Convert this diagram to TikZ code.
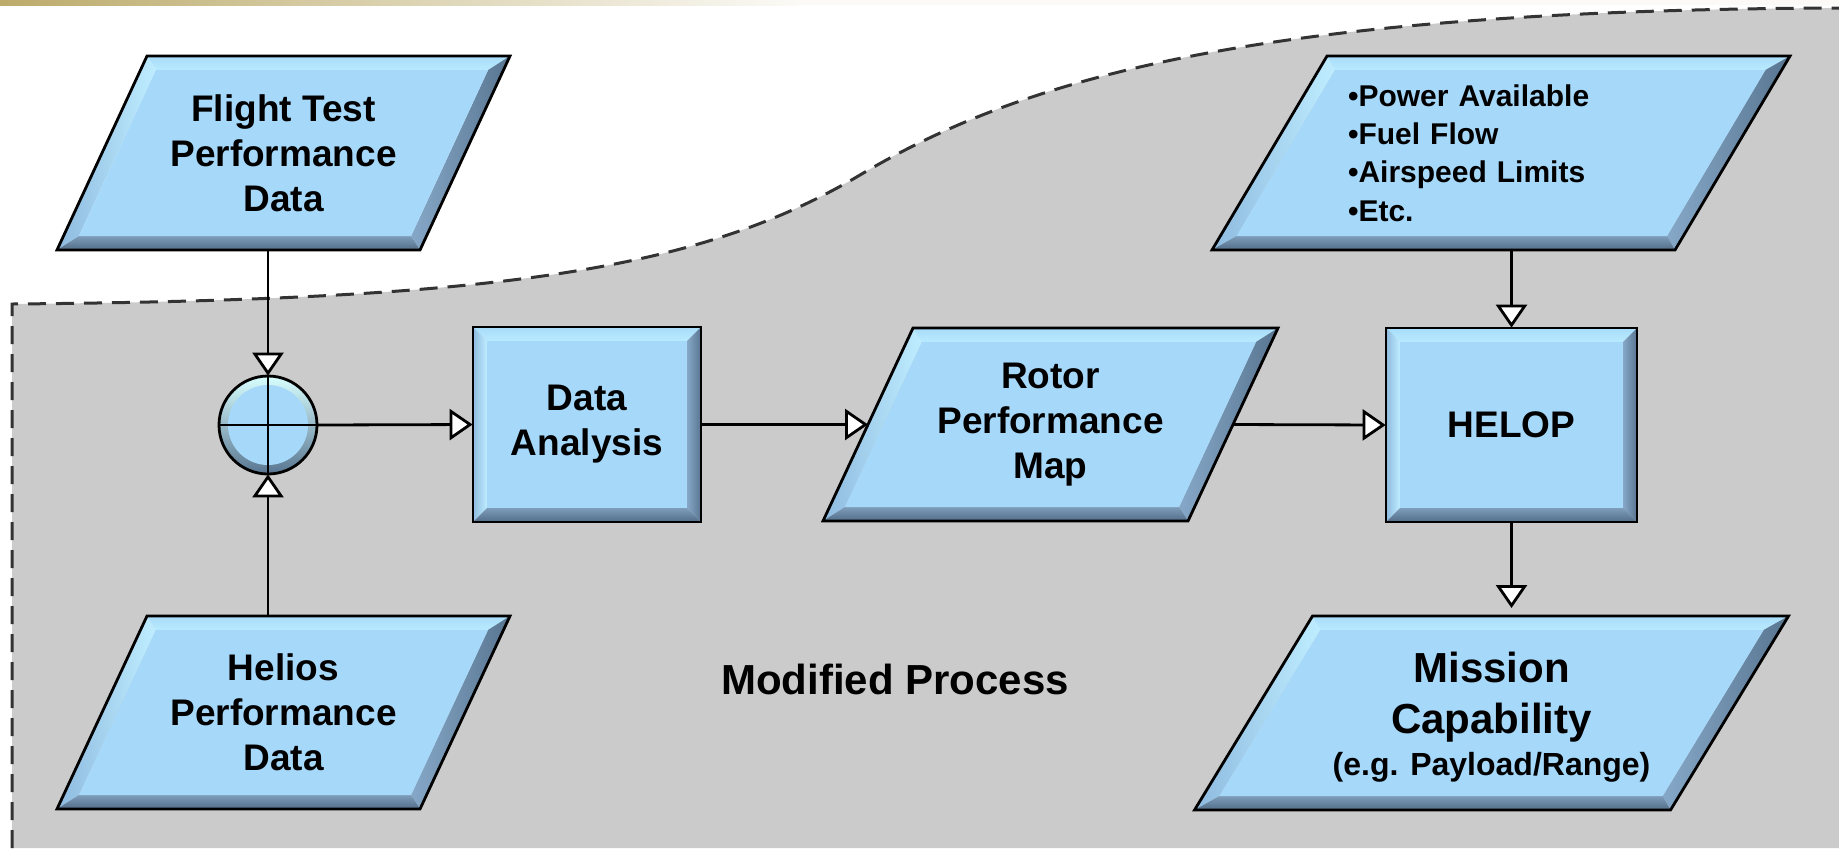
\documentclass[tikz,border=0pt]{standalone}
\usepackage{fontspec}
\setmainfont{Liberation Sans}
\usetikzlibrary{arrows.meta,calc}
\definecolor{face}{HTML}{A6D8FA}
\definecolor{bevtopA}{HTML}{A9DCF9}
\definecolor{bevtopM}{HTML}{D8FFFF}
\definecolor{bevtopB}{HTML}{B8EBFF}
\definecolor{bevleftA}{HTML}{8DBADF}
\definecolor{bevleftB}{HTML}{BFEDFF}
\definecolor{bevrightA}{HTML}{86A8C8}
\definecolor{bevrightB}{HTML}{587590}
\definecolor{bevbotA}{HTML}{7E9DBA}
\definecolor{bevbotB}{HTML}{516C87}
\definecolor{regiongray}{HTML}{CBCBCB}
\definecolor{olivebar}{HTML}{BCAB6B}
\def\bevw{14}
% #1 name, #2 cx, #3 cy, #4 width of horizontal side, #5 height, #6 slant
\newcommand\bevelshape[6]{%
  \pgfmathsetmacro\hw{#4/2}%
  \pgfmathsetmacro\hh{#5/2}%
  \pgfmathsetmacro\hs{#6/2}%
  \pgfmathsetmacro\ee{\bevw*veclen(#5/100,#6/100)/(#5/100)}%
  \pgfmathsetmacro\ihw{\hw-\ee}%
  \pgfmathsetmacro\ihh{\hh-\bevw}%
  \pgfmathsetmacro\ihs{\hs*(#5-2*\bevw)/#5}%
  \coordinate (#1-TL) at ({#2-\hw+\hs},{#3-\hh});
  \coordinate (#1-TR) at ({#2+\hw+\hs},{#3-\hh});
  \coordinate (#1-BR) at ({#2+\hw-\hs},{#3+\hh});
  \coordinate (#1-BL) at ({#2-\hw-\hs},{#3+\hh});
  \coordinate (#1-iTL) at ({#2-\ihw+\ihs},{#3-\ihh});
  \coordinate (#1-iTR) at ({#2+\ihw+\ihs},{#3-\ihh});
  \coordinate (#1-iBR) at ({#2+\ihw-\ihs},{#3+\ihh});
  \coordinate (#1-iBL) at ({#2-\ihw-\ihs},{#3+\ihh});
  \coordinate (#1-w) at ({#2-\hw},{#3});
  \coordinate (#1-e) at ({#2+\hw},{#3});
  \shade[top color=bevtopA, middle color=bevtopM, bottom color=bevtopB]
    (#1-TL) -- (#1-TR) -- (#1-iTR) -- (#1-iTL) -- cycle;
  \shade[left color=bevleftA, right color=bevleftB]
    (#1-TL) -- (#1-iTL) -- (#1-iBL) -- (#1-BL) -- cycle;
  \shade[left color=bevrightA, right color=bevrightB]
    (#1-TR) -- (#1-BR) -- (#1-iBR) -- (#1-iTR) -- cycle;
  \shade[top color=bevbotA, bottom color=bevbotB]
    (#1-BL) -- (#1-iBL) -- (#1-iBR) -- (#1-BR) -- cycle;
  \fill[face] (#1-iTL) -- (#1-iTR) -- (#1-iBR) -- (#1-iBL) -- cycle;
  \draw[outline] (#1-TL) -- (#1-TR) -- (#1-BR) -- (#1-BL) -- cycle;
}
\tikzset{
  outline/.style={line width=1.4pt, draw=black, line join=miter},
  lbl/.style={align=center, inner sep=0pt, font=\bfseries\fontsize{18.5}{22.5}\selectfont},
  conn/.style={line width=1.4pt, draw=black, -{Triangle[length=11.5pt,width=15.5pt,fill=white,line join=miter]}},
  boundary/.style={line width=1.5pt, draw=black!80, dash pattern=on 9pt off 5pt}
}
\begin{document}
\begin{tikzpicture}[x=0.5pt,y=-0.5pt]
\useasboundingbox (0,0) rectangle (1839,848);
\fill[white] (0,0) rectangle (1839,848);
% top bar
\shade[left color=olivebar, right color=white!94!olivebar] (0,0) rectangle (800,5);
\fill[white!94!olivebar] (800,0) rectangle (1839,5);
% region
\fill[regiongray] (12,848) -- (12,304) .. controls (500,300) and (700,270) .. (860,175)
  .. controls (1020,80) and (1250,10) .. (1839,8) -- (1839,848) -- cycle;
\draw[boundary] (12,848) -- (12,304) .. controls (500,300) and (700,270) .. (860,175)
  .. controls (1020,80) and (1250,10) .. (1839,8);

% shapes
\bevelshape{ft}{283.5}{153}{363}{194}{90}
\node[lbl, minimum width=181.5pt, minimum height=97pt] (ft) at (283.5,153) {Flight Test\\Performance\\Data};

\bevelshape{hel}{283.5}{712.5}{363}{193}{90}
\node[lbl, minimum width=181.5pt, minimum height=96.5pt] (hel) at (283.5,712.5) {Helios\\Performance\\Data};

\bevelshape{da}{587}{424.5}{228}{195}{0}
\node[lbl, minimum width=114pt, minimum height=97.5pt] (da) at (587,424.5) {Data\\Analysis};

\bevelshape{rpm}{1050.5}{424.5}{365}{193}{90}
\node[lbl, minimum width=182.5pt, minimum height=96.5pt] (rpm) at (1050.5,424.5) {Rotor\\Performance\\Map};

\bevelshape{helop}{1511.5}{425}{251}{194}{0}
\node[lbl, minimum width=125.5pt, minimum height=97pt] (helop) at (1511.5,425) {HELOP};

\bevelshape{pow}{1501}{153}{463}{194}{115}
\node[align=left, text width=153pt, inner sep=0pt, minimum height=97pt,
  font=\bfseries\fontsize{15}{19.2}\selectfont] (pow) at (1501,153)
  {•Power Available\\•Fuel Flow\\•Airspeed Limits\\•Etc.};

\bevelshape{mc}{1491.5}{713}{476}{194}{118}
\node[align=center, inner sep=0pt, font=\bfseries\fontsize{21}{25.5}\selectfont] (mc) at (1491.5,717)
  {Mission\\Capability\\[-4.5pt]{\fontsize{16}{19}\selectfont (e.g. Payload/Range)}};

% summing junction
\node[circle, minimum size=49pt, inner sep=0pt] (sum) at (268,425) {};
\shade[top color=bevtopM, bottom color=bevrightB] (sum.center) circle[radius=24.5pt];
\fill[face] (sum.center) circle[radius=20pt];
\draw[line width=1.2pt] (sum.west) -- (sum.east) (sum.north) -- (sum.south);
\draw[outline] (sum.center) circle[radius=24.5pt];

\node[anchor=base, inner sep=0pt, font=\bfseries\fontsize{21}{25}\selectfont] (mp) at (895,694) {Modified Process};

% connectors
\draw[conn] (sum.north |- ft-BL) -- (sum.north);
\draw[conn] (sum.south |- hel-TL) -- (sum.south);
\draw[conn] (sum.east) -- (da.west);
\draw[conn] (da.east) -- (rpm-w);
\draw[conn] (rpm-e) -- (helop.west);
\draw[conn] (helop.north |- pow-BL) -- (helop.north);
\draw[conn, shorten >=4pt] (helop.south) -- (helop.south |- mc-TL);
\end{tikzpicture}
\end{document}
